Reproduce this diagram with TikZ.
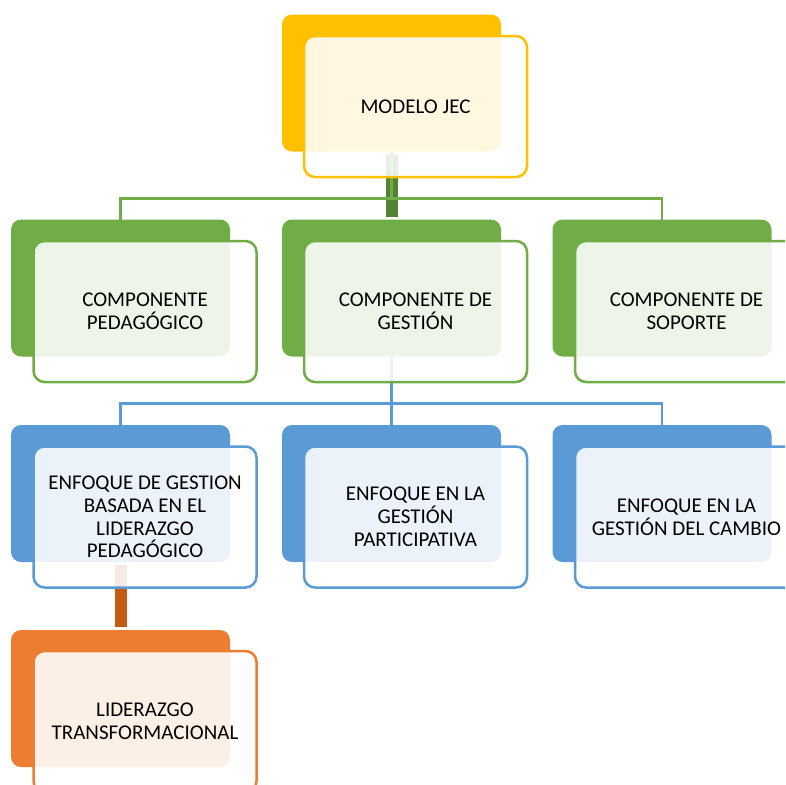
\documentclass[tikz,border=0pt]{standalone}
\usepackage{fontspec}
\setmainfont{Carlito}
\usetikzlibrary{calc}
\definecolor{cgold}{HTML}{FFC000}
\definecolor{cgreen}{HTML}{70AD47}
\definecolor{cdgreen}{HTML}{548235}
\definecolor{cblue}{HTML}{5B9BD5}
\definecolor{corange}{HTML}{ED7D31}
\definecolor{cdorange}{HTML}{C55A11}
\pgfdeclarelayer{bg}
\pgfsetlayers{bg,main}
\begin{document}
\begin{tikzpicture}[x=1pt,y=-1pt,
 backbox/.style={rounded corners=10pt, minimum width=219pt, minimum height=137pt, inner sep=0pt, outer sep=0pt},
 frontbox/.style={rounded corners=11pt, draw, line width=2.5pt, fill=white, fill opacity=0.88, text opacity=1, minimum width=223pt, minimum height=141pt, inner sep=0pt, outer sep=0pt, align=center, font=\fontsize{21}{22.8}\selectfont, text=black},
 conn/.style={line width=2.6pt},
 bar/.style={line width=12pt, shorten <=3pt, shorten >=3pt}]
\useasboundingbox (0,0) rectangle (785,785);
\clip (0,0) rectangle (785,785);
% level 1
\node[backbox, fill=cgold] (topB) at (391.5,83) {};
\node[frontbox, draw=cgold] (topF) at (415.5,106.5) {MODELO JEC};
% level 2
\node[backbox, fill=cgreen] (pedB) at (120.5,288) {};
\node[frontbox, draw=cgreen] (pedF) at (145,311.5) {COMPONENTE\\PEDAGÓGICO};
\node[backbox, fill=cgreen] (gesB) at (391.5,288) {};
\node[frontbox, draw=cgreen] (gesF) at (415.5,311.5) {COMPONENTE DE\\GESTIÓN};
\node[backbox, fill=cgreen] (sopB) at (662,288) {};
\node[frontbox, draw=cgreen] (sopF) at (686.5,311.5) {COMPONENTE DE\\SOPORTE};
% level 3
\node[backbox, fill=cblue] (lidB) at (120.5,493.5) {};
\node[frontbox, draw=cblue] (lidF) at (145,517) {ENFOQUE DE GESTION\\BASADA EN EL\\LIDERAZGO\\PEDAGÓGICO};
\node[backbox, fill=cblue] (parB) at (391.5,493.5) {};
\node[frontbox, draw=cblue] (parF) at (415.5,517) {ENFOQUE EN LA\\GESTIÓN\\PARTICIPATIVA};
\node[backbox, fill=cblue] (camB) at (662,493.5) {};
\node[frontbox, draw=cblue] (camF) at (686.5,517) {ENFOQUE EN LA\\GESTIÓN DEL CAMBIO};
% level 4
\node[backbox, fill=corange] (traB) at (120.5,698.5) {};
\node[frontbox, draw=corange] (traF) at (145,721.5) {LIDERAZGO\\TRANSFORMACIONAL};
% connectors
\begin{pgfonlayer}{bg}
\coordinate (m1) at ($(topF.south)!0.5!(gesB.north)$);
\coordinate (m2) at ($(gesF.south)!0.5!(parB.north)$);
\draw[bar, cdgreen] (topB.south) -- (gesB.north);
\draw[conn, cgreen] (topB.south) -- (topB.south |- m1) -| (pedB.north);
\draw[conn, cgreen] (topB.south) -- (topB.south |- m1) -| (sopB.north);
\draw[conn, cblue] (gesB.south) -- (gesB.south |- m2) -| (lidB.north);
\draw[conn, cblue] (gesB.south) -- (gesB.south |- m2) -| (camB.north);
\draw[conn, cblue] (gesB.south) -- (parB.north);
\draw[bar, cdorange] (lidB.south) -- (traB.north);
\end{pgfonlayer}
\end{tikzpicture}
\end{document}
